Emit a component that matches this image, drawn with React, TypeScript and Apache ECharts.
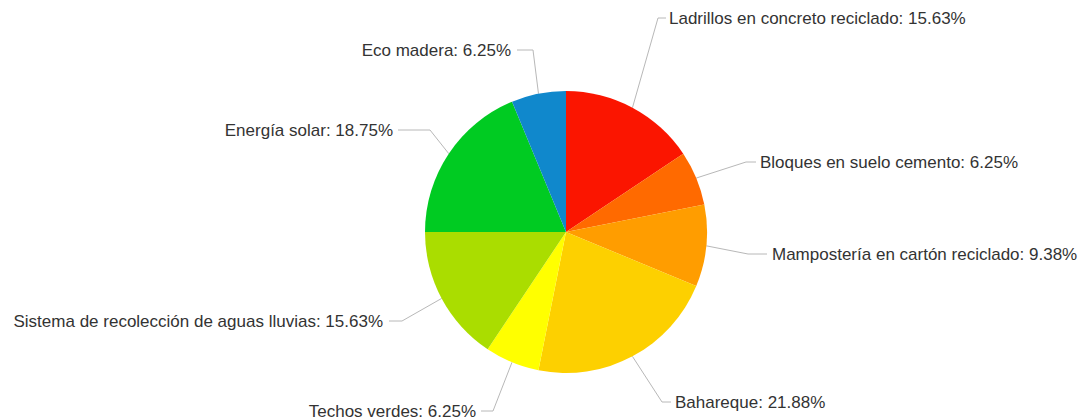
import React, { useEffect, useRef } from "react";
import * as echarts from "echarts";

const categories = [
  "Ladrillos en concreto reciclado",
  "Bloques en suelo cemento",
  "Mampostería en cartón reciclado",
  "Bahareque",
  "Techos verdes",
  "Sistema de recolección de aguas lluvias",
  "Energía solar",
  "Eco madera",
];
const values = [15.63, 6.25, 9.38, 21.88, 6.25, 15.63, 18.75, 6.25];
const colors = [
  "#fb1500",
  "#ff6a00",
  "#ff9d00",
  "#fdd000",
  "#ffff00",
  "#aadd00",
  "#00cb22",
  "#1088cc",
];

// label placement: [textX, textY, align, bendX, endX]
const labelPlacement: [number, number, "left" | "right", number, number][] = [
  [669, 18, "left", 658, 666],
  [760, 162, "left", 746, 756],
  [772, 254, "left", 748, 767],
  [675, 402, "left", 662, 671],
  [476, 411, "right", 493, 481],
  [383, 321, "right", 402, 389],
  [393, 130, "right", 430, 398],
  [511, 50, "right", 533, 517],
];

export default function App() {
  const ref = useRef<HTMLDivElement>(null);
  useEffect(() => {
    const chart = echarts.init(ref.current!, null, { renderer: "svg" });
    chart.setOption({
      animation: false,
      backgroundColor: "#ffffff",
      series: [
        {
          type: "pie",
          center: [566, 232],
          radius: 141,
          startAngle: 90,
          clockwise: true,
          avoidLabelOverlap: false,
          data: categories.map((name, i) => ({
            name,
            value: values[i],
            itemStyle: { color: colors[i] },
          })),
          itemStyle: { borderWidth: 0 },
          label: {
            show: true,
            position: "outside",
            formatter: "{b}: {c}%",
            fontFamily: "Liberation Sans, Arial, sans-serif",
            fontSize: 17,
            color: "#333333",
          },
          labelLine: {
            show: true,
            lineStyle: { color: "#b8b8b8", width: 1 },
          },
          labelLayout: (params: any) => {
            const p = labelPlacement[params.dataIndex];
            const start = params.labelLinePoints
              ? params.labelLinePoints[0]
              : [p[3], p[1]];
            return {
              x: p[0],
              y: p[1],
              align: p[2],
              verticalAlign: "middle",
              labelLinePoints: [start, [p[3], p[1]], [p[4], p[1]]],
            };
          },
        },
      ],
    });
    return () => chart.dispose();
  }, []);
  return (
    <div
      ref={ref}
      style={{ position: "fixed", left: 0, top: 0, width: 1088, height: 420 }}
    />
  );
}
